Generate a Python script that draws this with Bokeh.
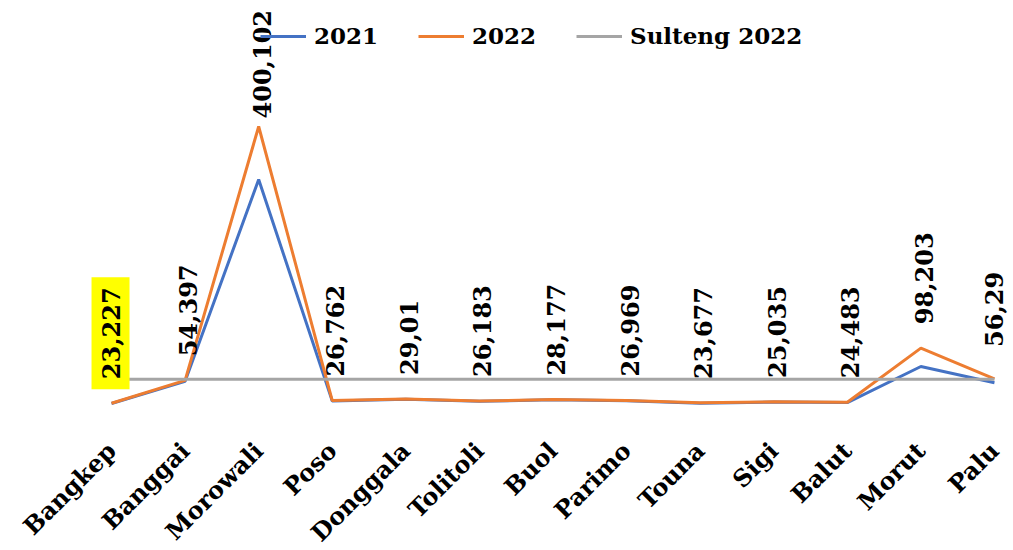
import math
from bokeh.plotting import figure
from bokeh.models import ColumnDataSource, LabelSet, Label, Legend, LegendItem, Range1d
from bokeh.core.properties import value
from bokeh.embed import file_html
from bokeh.resources import INLINE

categories = ["Bangkep", "Banggai", "Morowali", "Poso", "Donggala", "Tolitoli",
              "Buol", "Parimo", "Touna", "Sigi", "Balut", "Morut", "Palu"]
values_2021 = [22.9, 53.0, 328.0, 26.2, 28.6, 25.9, 27.8, 26.6, 23.3, 24.7, 24.1, 73.2, 51.0]
values_2022 = [23.227, 54.397, 400.102, 26.762, 29.01, 26.183, 28.177, 26.969,
               23.677, 25.035, 24.483, 98.203, 56.29]
labels_2022 = ["23,227", "54,397", "400,102", "26,762", "29,01", "26,183", "28,177",
               "26,969", "23,677", "25,035", "24,483", "98,203", "56,29"]
sulteng_2022 = 55.7

FONT = "DejaVu Serif"
BLUE = "#4472C4"
ORANGE = "#ED7D31"
GRAY = "#A5A5A5"

xs = list(range(len(categories)))

p = figure(frame_width=1010, frame_height=422, output_backend="svg", toolbar_location=None,
           x_range=Range1d(-1.509, 12.218), y_range=Range1d(-3.06, 571.7),
           y_axis_location=None, min_border_left=0, min_border_right=0,
           min_border_top=0, min_border_bottom=0)
p.outline_line_color = None
p.xgrid.visible = False
p.ygrid.visible = False
p.background_fill_color = "white"
p.border_fill_color = "white"

r1 = p.line(xs, values_2021, line_color=BLUE, line_width=3)
r2 = p.line(xs, values_2022, line_color=ORANGE, line_width=3)
r3 = p.line(xs, [sulteng_2022] * len(xs), line_color=GRAY, line_width=3)

ax = p.xaxis[0]
ax.ticker = xs
ax.major_label_overrides = {i: c for i, c in enumerate(categories)}
ax.major_label_orientation = math.pi / 4
ax.major_label_text_font = FONT
ax.major_label_text_font_style = "bold"
ax.major_label_text_font_size = "24px"
ax.major_label_text_color = "black"
ax.axis_line_color = None
ax.major_tick_line_color = None
ax.minor_tick_line_color = None
ax.major_label_standoff = 18

# data labels (rotated) for 2022
offsets = [24] * len(xs)
imax = values_2022.index(max(values_2022))
offsets[imax] = 8          # keep the tallest label inside the chart area
offsets[-1] = 32
xoff = [3] * len(xs)
xoff[-1] = 0

src = ColumnDataSource(dict(x=xs[1:], y=values_2022[1:], text=labels_2022[1:],
                            yo=offsets[1:], xo=xoff[1:]))
labels = LabelSet(x="x", y="y", text="text", source=src, angle=math.pi / 2,
                  text_align="left", text_baseline="middle", y_offset="yo", x_offset="xo",
                  text_font=value(FONT), text_font_style=value("bold"),
                  text_font_size=value("24px"), text_color=value("black"))
p.add_layout(labels)

hl = Label(x=xs[0], y=values_2022[0], text=labels_2022[0], angle=math.pi / 2,
           text_align="left", text_baseline="middle", y_offset=offsets[0] - 10, x_offset=-1,
           text_font=FONT, text_font_style="bold", text_font_size="24px",
           text_color="black", background_fill_color="#FFFF00", padding=10)
p.add_layout(hl)

legend = Legend(items=[LegendItem(label="2021", renderers=[r1]),
                       LegendItem(label="2022", renderers=[r2]),
                       LegendItem(label="Sulteng 2022", renderers=[r3])],
                orientation="horizontal", location=(260, 373),
                glyph_width=46, label_standoff=8, spacing=40, padding=0, margin=0,
                border_line_color=None, background_fill_alpha=0,
                label_text_font=FONT, label_text_font_style="bold",
                label_text_font_size="23px", label_text_color="black")
p.add_layout(legend)

open("out.html", "w").write(file_html(p, INLINE))
